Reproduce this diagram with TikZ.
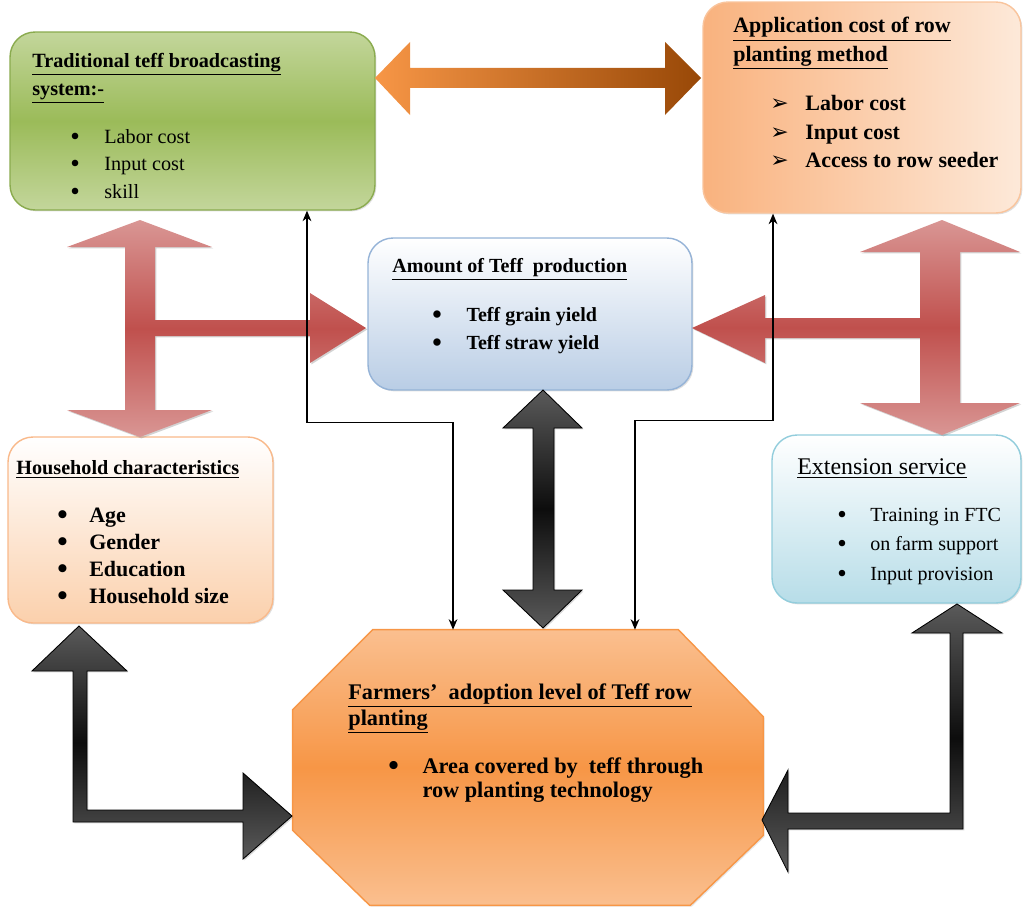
\documentclass[tikz,border=0pt]{standalone}
\usepackage{fontspec}
\setmainfont{Liberation Serif}
\newfontfamily\dejavu{DejaVu Sans}
\usetikzlibrary{arrows.meta,shadows}

\definecolor{greenlite}{HTML}{C3D69B}
\definecolor{greenmid}{HTML}{9BBB59}
\definecolor{greenline}{HTML}{8AAB4E}
\definecolor{applorange}{HTML}{F9B27E}
\definecolor{appllite}{HTML}{FDE9D9}
\definecolor{appledge}{HTML}{F9C49C}
\definecolor{bluelite}{HTML}{B9CDE5}
\definecolor{blueline}{HTML}{95B3D7}
\definecolor{peachlite}{HTML}{FBD0AC}
\definecolor{peachline}{HTML}{F9B98A}
\definecolor{cyanlite}{HTML}{B7DDE8}
\definecolor{cyanline}{HTML}{92CDDC}
\definecolor{farmlite}{HTML}{FABF8F}
\definecolor{farmmid}{HTML}{F79646}
\definecolor{redlite}{HTML}{D99694}
\definecolor{redmid}{HTML}{C0504D}
\definecolor{greyend}{HTML}{5A5A5A}
\definecolor{brownend}{HTML}{984807}

% bigger bullet, like the Symbol one
\newcommand{\bul}{\raisebox{-0.1em}{\scalebox{1.35}{\textbullet}}}
\newcommand{\pointer}{{\dejavu\mdseries\fontsize{12.5}{12}\selectfont ➢}}

\tikzset{
  box/.style={rounded corners=0.5cm, inner sep=0pt, line width=0.8pt,
    drop shadow={opacity=.25, shadow xshift=.8pt, shadow yshift=-.8pt}},
  txt/.style={anchor=north west, inner sep=0pt, align=left},
  link/.style={{Stealth[length=6pt,width=5pt]}-{Stealth[length=6pt,width=5pt]}, line width=0.7pt},
  redarrow/.style={top color=redlite, bottom color=redlite, middle color=redmid,
    drop shadow={opacity=.35, shadow xshift=.8pt, shadow yshift=-.8pt}},
  darkarrow/.style={top color=greyend, bottom color=greyend, middle color=black!95,
    draw=black, line width=0.5pt,
    drop shadow={opacity=.3, shadow xshift=.8pt, shadow yshift=-.8pt}},
  orangearrow/.style={left color=farmmid, right color=brownend},
  octagon/.style={draw=farmmid, line width=0.8pt, top color=farmlite, bottom color=farmlite,
    middle color=farmmid, drop shadow={opacity=.2, shadow xshift=.8pt, shadow yshift=-.8pt}},
}

\begin{document}
\begin{tikzpicture}[x=0.02cm, y=-0.02cm]
  % 1 unit = 1 pixel of the 1023 x 909 layout, y grows downwards
  \useasboundingbox (0,0) rectangle (1023,909);

  % boxes
  \node[box, draw=greenline, top color=greenlite, bottom color=greenlite, middle color=greenmid,
        minimum width=7.3cm, minimum height=3.56cm] (trad) at (192.5,121) {};
  \node[box, draw=appledge, left color=applorange, right color=appllite,
        minimum width=6.36cm, minimum height=4.22cm] (appl) at (862,107.5) {};
  \node[box, draw=blueline, top color=white, bottom color=bluelite,
        minimum width=6.48cm, minimum height=3.04cm] (amount) at (530,314) {};
  \node[box, draw=peachline, top color=white, bottom color=peachlite,
        minimum width=5.3cm, minimum height=3.72cm] (house) at (140.5,530) {};
  \node[box, draw=cyanline, top color=white, bottom color=cyanlite,
        minimum width=4.98cm, minimum height=3.36cm] (ext) at (896.5,519) {};

  % farmers' adoption: octagon cut from the frame of the node
  \node[minimum width=9.4cm, minimum height=5.5cm, inner sep=0pt] (farm) at (528,767.5) {};
  \path[octagon] ([xshift=1.6cm]farm.north west) -- ([xshift=-1.7cm]farm.north east)
    -- ([yshift=-1.74cm]farm.north east) -- ([yshift=1.4cm]farm.south east)
    -- ([xshift=-1.46cm]farm.south east) -- ([xshift=1.54cm]farm.south west)
    -- ([yshift=1.5cm]farm.south west) -- ([yshift=-1.6cm]farm.north west) -- cycle;

  % block arrows
  % orange: traditional <-> application cost
  \path[orangearrow] (375,78) -- (410,42) -- (410,68) -- (665,68) -- (665,42) -- (701,78)
    -- (665,115) -- (665,88) -- (410,88) -- (410,115) -- cycle;

  % red, left: traditional <-> household, branch to amount
  \path[redarrow] (140,220) -- (212,247) -- (155,247) -- (155,320) -- (310,320) -- (310,293)
    -- (366,328) -- (310,363) -- (310,336) -- (155,336) -- (155,410) -- (212,410) -- (140,437)
    -- (67,410) -- (125,410) -- (125,247) -- (67,247) -- cycle;

  % red, right: application cost <-> extension, branch to amount
  \path[redarrow] (942,220) -- (1020,252) -- (960,252) -- (960,403) -- (1020,403) -- (942,435)
    -- (860,403) -- (920,403) -- (920,338) -- (765,338) -- (765,363) -- (692,328) -- (765,295)
    -- (765,318) -- (920,318) -- (920,252) -- (860,252) -- cycle;

  % dark: amount <-> farmers
  \path[darkarrow] (543,390) -- (582,428) -- (554,428) -- (554,590) -- (582,590) -- (543,628)
    -- (503,590) -- (533,590) -- (533,428) -- (503,428) -- cycle;

  % dark: household <-> farmers
  \path[darkarrow] (79,626) -- (127,671) -- (87,671) -- (87,810) -- (243,810) -- (243,773)
    -- (292,816) -- (243,859) -- (243,822) -- (73,822) -- (73,671) -- (32,671) -- cycle;

  % dark: extension <-> farmers
  \path[darkarrow] (957,604) -- (1002,633) -- (963,633) -- (963,829) -- (788,829) -- (788,872)
    -- (762,820) -- (788,770) -- (788,813) -- (950,813) -- (950,633) -- (912,633) -- cycle;

  % thin connectors
  \draw[link] ([xshift=2.29cm]trad.south) -- ++(0,212) -| ([xshift=-1.5cm]farm.north);
  \draw[link] ([xshift=-1.78cm]appl.south) -- ++(0,207) -| ([xshift=2.14cm]farm.north);

  % texts
  \node[txt, font=\fontsize{11.5}{15.7}\selectfont] (tradtxt) at (32,53)
    {\underline{\textbf{Traditional teff broadcasting}}\\
     \underline{\textbf{system:-}}\\[11.6pt]
     \hspace*{21.6pt}\makebox[19.4pt][l]{\bul}Labor cost\\
     \hspace*{21.6pt}\makebox[19.4pt][l]{\bul}Input cost\\
     \hspace*{21.6pt}\makebox[19.4pt][l]{\bul}skill};

  \node[txt, font=\fontsize{12.5}{16.3}\selectfont\bfseries] (appltxt) at (733,17)
    {\underline{Application cost of row}\\
     \underline{planting method}\\[11.6pt]
     \hspace*{21pt}\makebox[20pt][l]{\pointer}Labor cost\\
     \hspace*{21pt}\makebox[20pt][l]{\pointer}Input cost\\
     \hspace*{21pt}\makebox[20pt][l]{\pointer}Access to row seeder};

  \node[txt, font=\fontsize{11.4}{16}\selectfont\bfseries] (amounttxt) at (392,258)
    {\underline{Amount of Teff\ \ production}\\[11.9pt]
     \hspace*{22.8pt}\makebox[19.4pt][l]{\bul}Teff grain yield\\
     \hspace*{22.8pt}\makebox[19.4pt][l]{\bul}Teff straw yield};

  \node[txt, font=\fontsize{12.5}{15.4}\selectfont\bfseries] (housetxt) at (16,460)
    {{\fontsize{11.5}{15.4}\selectfont\underline{Household characteristics}}\\[11.9pt]
     \hspace*{23.3pt}\makebox[18.2pt][l]{\bul}Age\\
     \hspace*{23.3pt}\makebox[18.2pt][l]{\bul}Gender\\
     \hspace*{23.3pt}\makebox[18.2pt][l]{\bul}Education\\
     \hspace*{23.3pt}\makebox[18.2pt][l]{\bul}Household size};

  \node[txt, font=\fontsize{11.4}{16.8}\selectfont] (exttxt) at (797,458)
    {{\fontsize{13.6}{16.8}\selectfont\underline{Extension service}}\\[9.9pt]
     \hspace*{22.8pt}\makebox[18.8pt][l]{\bul}Training in FTC\\
     \hspace*{22.8pt}\makebox[18.8pt][l]{\bul}on farm support\\
     \hspace*{22.8pt}\makebox[18.8pt][l]{\bul}Input provision};

  \node[txt, font=\fontsize{12.7}{14.8}\selectfont\bfseries] (farmtxt) at (348,683)
    {\underline{Farmers’\ \ adoption level of Teff row}\\
     \underline{planting}\\[12.5pt]
     \hspace*{22.8pt}\makebox[19.4pt][l]{\bul}Area covered by\ \ teff through\\[-0.6pt]
     \hspace*{42.2pt}row planting technology};
\end{tikzpicture}
\end{document}
